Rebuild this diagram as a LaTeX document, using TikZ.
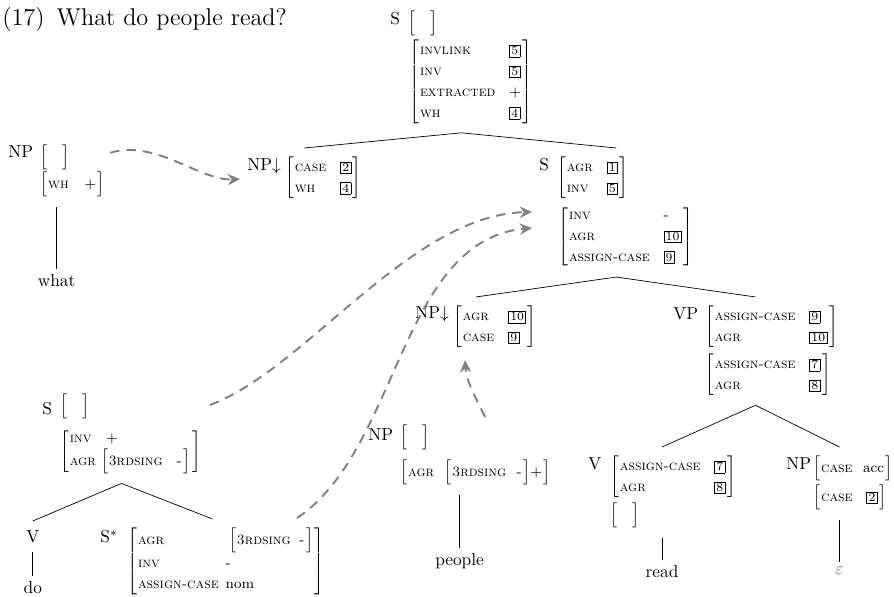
\documentclass[tikz,border=0pt]{standalone}
\usepackage{exscale}
\usetikzlibrary{positioning,calc,fit,arrows.meta}
\setlength{\fboxsep}{0.8pt}
\renewcommand{\arraystretch}{1.25}
\newcommand{\feat}[1]{\textsc{#1}}
\newcommand{\tagbox}[1]{\fbox{\scriptsize #1}}
\newcommand{\subavm}[2][8pt]{$\left[\begin{tabular}{@{\hspace{0.5pt}}l@{\hspace{#1}}l@{\hspace{1pt}}}#2\end{tabular}\right]$}
\newcommand{\avm}[2][8pt]{$\left[\vrule height 9pt depth 5pt width 0pt\begin{tabular}{@{\hspace{0.5pt}}l@{\hspace{#1}}l@{\hspace{1pt}}}#2\end{tabular}\right]$}
\newcommand{\emptyavm}{$\left[\vrule height 9pt depth 5pt width 0pt\rule{9pt}{0pt}\right]$}

\begin{document}
\begin{tikzpicture}[x=0.0203cm,y=-0.0203cm,
  every node/.style={inner sep=0pt},
  cat/.style={anchor=north west},
  fs/.style={anchor=north west,font=\fontsize{8.2}{9.6}\selectfont},
  grp/.style={inner sep=5pt},
  word/.style={anchor=base,inner sep=3pt},
  link/.style={draw=black!50,line width=1.1pt,dash pattern=on 5.5pt off 4pt,
    -{Stealth[length=7pt,width=6.5pt]}}]
\useasboundingbox (0,0) rectangle (894,597);

\node[anchor=base west,font=\fontsize{14}{17}\selectfont] (title) at (2,26) {(17)\enspace What do people read?};

% top S
\node[cat] (s0) at (390,12) {S};
\node[fs] (s0e) at (408,11) {\emptyavm};
\node[fs] (s0a) at (409,40) {\avm{\feat{invlink} & \tagbox{5}\\ \feat{inv} & \tagbox{5}\\ \feat{extracted} & +\\ \feat{wh} & \tagbox{4}}};
\node[grp,fit=(s0)(s0e)(s0a)] (s0g) {};

% NP what
\node[cat] (np0) at (8,145) {NP};
\node[fs] (np0e) at (40,145) {\emptyavm};
\node[fs] (np0a) at (40,172) {\avm[9pt]{\feat{wh} & +}};
\node[grp,fit=(np0)(np0e)(np0a)] (np0g) {};
\node[word] (what) at (np0g.south |- 0,287) {what};

% NP subst, left
\node[cat] (np1) at (247,158) {NP$\downarrow$};
\node[fs] (np1a) at (285,157) {\avm{\feat{case} & \tagbox{2}\\ \feat{wh} & \tagbox{4}}};
\node[grp,fit=(np1)(np1a)] (np1g) {};

% S right
\node[cat] (s1) at (539,158) {S};
\node[fs] (s1a) at (557,157) {\avm{\feat{agr} & \tagbox{1}\\ \feat{inv} & \tagbox{5}}};
\node[fs] (s1b) at (558,205) {\avm{\feat{inv} & -\\ \feat{agr} & \tagbox{10}\\ \feat{assign-case} & \tagbox{9}}};
\node[grp,fit=(s1)(s1a)(s1b)] (s1g) {};

% NP subst, middle
\node[cat] (np2) at (415,306) {NP$\downarrow$};
\node[fs] (np2a) at (453,306) {\avm{\feat{agr} & \tagbox{10}\\ \feat{case} & \tagbox{9}}};
\node[grp,fit=(np2)(np2a)] (np2g) {};

% VP
\node[cat] (vp) at (673,307) {VP};
\node[fs] (vpa) at (705,306) {\avm{\feat{assign-case} & \tagbox{9}\\ \feat{agr} & \tagbox{10}}};
\node[fs] (vpb) at (705,354) {\avm{\feat{assign-case} & \tagbox{7}\\ \feat{agr} & \tagbox{8}}};
\node[grp,fit=(vp)(vpa)(vpb)] (vpg) {};

% V read
\node[cat] (v1) at (588,457) {V};
\node[fs] (v1a) at (610,456) {\avm{\feat{assign-case} & \tagbox{7}\\ \feat{agr} & \tagbox{8}}};
\node[fs] (v1e) at (610,503) {\emptyavm};
\node[grp,fit=(v1)(v1a)(v1e)] (v1g) {};
\node[word] (read) at (v1g.south |- 0,578) {read};

% NP trace
\node[cat] (np3) at (786,457) {NP};
\node[fs,anchor=north east] (np3a) at (893,456) {\avm[6pt]{\feat{case} & acc}};
\node[fs] (np3b) at (np3a.south west |- 0,485) {\avm{\feat{case} & \tagbox{2}}};
\node[grp,fit=(np3)(np3a)(np3b)] (np3g) {};
\node[word,text=black!60] (eps) at (np3g.south |- 0,575) {$\varepsilon$};

% S aux tree
\node[cat] (s2) at (42,402) {S};
\node[fs] (s2e) at (60,394) {\emptyavm};
\node[fs] (s2a) at (60,428) {\avm[3pt]{\feat{inv} & \hspace{3pt}+\\ \feat{agr} & \subavm[8pt]{\feat{3rdsing} & -}}};
\node[grp,fit=(s2)(s2e)(s2a)] (s2g) {};

\node[cat] (v0) at (26,530) {V};
\node[grp,fit=(v0)] (v0g) {};
\node[word] (do) at (v0g.south |- 0,594) {do};

\node[cat] (ss) at (100,530) {S$^*$};
\node[fs] (ssa) at (127,528) {\avm[4pt]{\feat{agr} & \hspace{2pt}\subavm[5pt]{\feat{3rdsing} & -}\\ \feat{inv} & -\\ \feat{assign-case} & nom}};
\node[grp,fit=(ss)(ssa)] (ssg) {};

% NP people
\node[cat] (np4) at (368,428) {NP};
\node[fs] (np4e) at (400,425) {\emptyavm};
\node[fs] (np4a) at (400,460) {\avm[6pt]{\feat{agr} & \subavm[6pt]{\feat{3rdsing} & -}+}};
\node[grp,fit=(np4)(np4e)(np4a)] (np4g) {};
\node[word] (people) at (np4g.south |- 0,566) {people};

% branches
\draw (s0g.south) -- (np1g.north);
\draw (s0g.south) -- (s1g.north);
\draw (s1g.south) -- (np2g.north);
\draw (s1g.south) -- (vpg.north);
\draw (vpg.south) -- (v1g.north);
\draw (vpg.south) -- (np3g.north);
\draw (s2g.south) -- (v0g.north);
\draw (s2g.south) -- (ssg.north);
\draw (np0g.south) -- (what.north);
\draw (np4g.south) -- (people.north);
\draw (v1g.south) -- (read.north);
\draw (np3g.south) -- (eps.north);
\draw (v0g.south) -- (do.north);

% substitution and adjunction
\draw[link] ($(np0e.east)+(40,-5)$) .. controls +(45,-14) and +(-40,2) .. ($(np1.west)+(-7,13)$);
\draw[link] ($(s2a.north east)+(9,-23)$) .. controls +(95,-35) and +(-122,3) .. ($(s1b.north west)+(-26,7)$);
\draw[link] ($(ssa.north east)+(-28,-10)$) .. controls +(102,-68) and +(-132,12) .. ($(s1b.north west)+(-26,23)$);
\draw[link] ($(np4e.north east)+(55,-8)$) .. controls +(-10,-20) and +(1,20) .. ($(np2a.south west)+(12,12)$);
\end{tikzpicture}
\end{document}
